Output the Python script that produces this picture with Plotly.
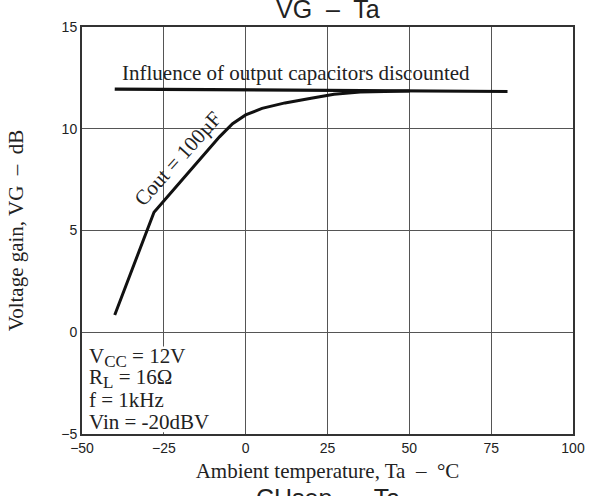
import plotly.graph_objects as go

# Cout = 100uF curve
temp_cout = [-40, -28, -18, -8, -4, 0, 5, 12, 20, 27, 35, 50]
gain_cout = [0.85, 5.9, 7.75, 9.6, 10.25, 10.68, 11.0, 11.27, 11.5, 11.7, 11.8, 11.86]

# "Influence of output capacitors discounted" line
temp_flat = [-40, 80]
gain_flat = [11.95, 11.83]

x_ticks = [-50, -25, 0, 25, 50, 75, 100]
y_ticks = [-5, 0, 5, 10, 15]

conditions = [
    "V<sub><span style='font-size:17px'>CC</span></sub> = 12V",
    "R<sub><span style='font-size:17px'>L</span></sub> = 16Ω",
    "f = 1kHz",
    "Vin = -20dBV",
]

SERIF = "Liberation Serif, Times New Roman, serif"
SANS = "Liberation Sans, Arial, sans-serif"

fig = go.Figure()

fig.add_trace(go.Scatter(
    x=temp_flat, y=gain_flat, mode="lines",
    line=dict(color="#111111", width=3.2), showlegend=False
))
fig.add_trace(go.Scatter(
    x=temp_cout, y=gain_cout, mode="lines",
    line=dict(color="#111111", width=3), showlegend=False
))

# white box behind the conditions text (hides the grid there)
fig.add_shape(type="rect", xref="x domain", yref="y domain",
              x0=0.003, x1=0.26, y0=0.004, y1=0.215,
              fillcolor="white", line=dict(width=0), layer="above")

cond_y = [0.187, 0.136, 0.083, 0.029]
for txt, yy in zip(conditions, cond_y):
    fig.add_annotation(text=txt, xref="x domain", yref="y domain",
                       x=0.01, y=yy, xanchor="left", yanchor="middle",
                       showarrow=False, font=dict(family=SERIF, size=21, color="#222"))

fig.add_annotation(text="Influence of output capacitors discounted",
                   x=15.4, y=12.74, xanchor="center", yanchor="middle",
                   showarrow=False, font=dict(family=SERIF, size=21, color="#222"))
fig.add_annotation(text="Cout = 100µF", x=-20.8, y=8.5, textangle=-48,
                   showarrow=False, font=dict(family=SERIF, size=21, color="#222"))

# chart title and the cut-off title of the next chart
fig.add_annotation(text="VG  –  Ta", xref="paper", yref="paper",
                   x=0.5, y=1.045, xanchor="center", yanchor="middle",
                   showarrow=False, font=dict(family=SANS, size=25, color="#222"))
fig.add_annotation(text="CHsep  –  Ta", xref="paper", yref="paper",
                   x=0.5, y=-0.157, xanchor="center", yanchor="middle",
                   showarrow=False, font=dict(family=SANS, size=25, color="#222"))

fig.update_xaxes(
    range=[-50, 100], tickvals=x_ticks, showgrid=True,
    gridcolor="#555", gridwidth=1, zeroline=False,
    showline=True, linecolor="#333", linewidth=2, mirror=True,
    ticks="", tickfont=dict(family=SANS, size=14, color="#222"),
    title=dict(text="Ambient temperature, Ta  –  °C",
               font=dict(family=SERIF, size=21, color="#222"), standoff=9)
)
fig.update_yaxes(
    range=[-5, 15], tickvals=y_ticks, showgrid=True,
    gridcolor="#555", gridwidth=1, zeroline=False,
    showline=True, linecolor="#333", linewidth=2, mirror=True,
    ticks="", tickfont=dict(family=SANS, size=14, color="#222"),
    title=dict(text="Voltage gain, VG  –  dB",
               font=dict(family=SERIF, size=21, color="#222"), standoff=32)
)

fig.update_layout(
    width=589, height=496,
    margin=dict(l=82, r=16, t=27, b=62, autoexpand=False),
    plot_bgcolor="white", paper_bgcolor="white",
    showlegend=False
)

# drop the default 8px body margin so the figure fills the window
fig.write_html("out.html", config={"displayModeBar": False},
               post_script="document.body.style.margin='0';")
